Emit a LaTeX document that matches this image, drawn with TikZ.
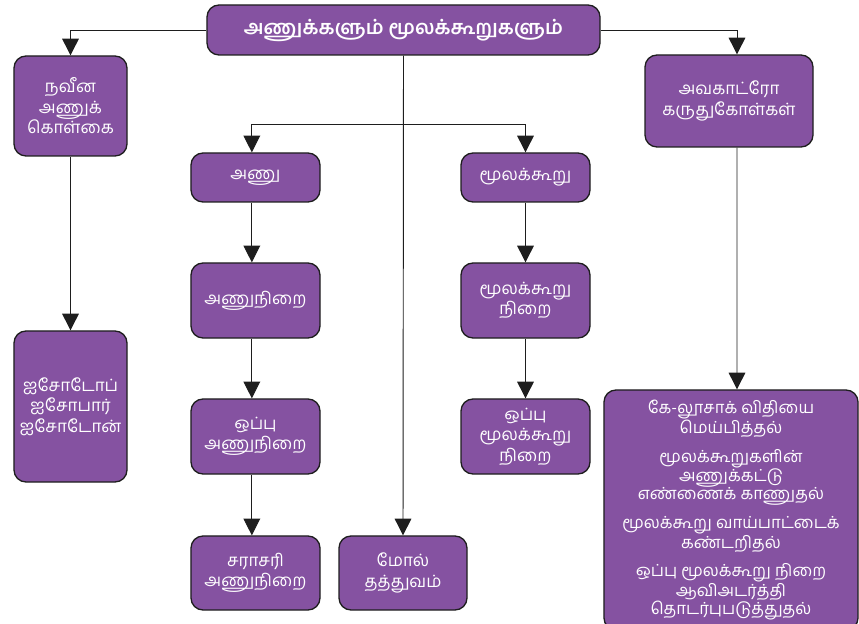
\documentclass[tikz,border=0pt]{standalone}
\usepackage{fontspec}
\newfontfamily\tamilfont[Script=Tamil]{Hind Madurai}
\usetikzlibrary{arrows.meta,positioning}
\usepackage{xcolor}
\definecolor{lineblack}{RGB}{30,30,30}
\definecolor{boxpurple}{RGB}{133,82,161}

\tikzset{
  topicbox/.style={draw=lineblack, fill=boxpurple, line width=1.1pt,
    rounded corners=3.6mm, text=white, align=center, inner sep=2pt,
    font=\tamilfont\fontsize{14.5}{17.5}\selectfont},
  flow/.style={-{Triangle[length=5mm,width=5mm]}, line width=0.8pt, draw=lineblack},
}

\begin{document}
\begin{tikzpicture}[x=0.03cm,y=-0.03cm]
\useasboundingbox (0,0) rectangle (859,624);
% title
\node[topicbox, minimum width=11.79cm, minimum height=1.5cm,
  font=\tamilfont\bfseries\fontsize{16.7}{20}\selectfont] (title) at (403.5,30) {அணுக்களும் மூலக்கூறுகளும்};
% left column
\node[topicbox, minimum width=3.39cm, minimum height=3.0cm] (theory) at (70.5,106) {நவீன\\அணுக்\\கொள்கை};
\node[topicbox, minimum width=3.39cm, minimum height=4.53cm] (isotope) at (70.5,406.5) {ஐசோடோப்\\ஐசோபார்\\ஐசோடோன்};
% atom column
\node[topicbox, minimum width=3.87cm, minimum height=1.47cm] (atom) at (255.5,177.5) {அணு};
\node[topicbox, minimum width=3.87cm, minimum height=2.25cm] (amass) at (255.5,300.5) {அணுநிறை};
\node[topicbox, minimum width=3.87cm, minimum height=2.25cm] (relamass) at (255.5,436.5) {ஒப்பு\\அணுநிறை};
\node[topicbox, minimum width=3.87cm, minimum height=2.22cm] (avgmass) at (255.5,573) {சராசரி\\அணுநிறை};
\node[topicbox, minimum width=3.84cm, minimum height=2.22cm] (mole) at (403,573) {மோல்\\தத்துவம்};
% molecule column
\node[topicbox, minimum width=3.87cm, minimum height=1.47cm] (molecule) at (525.5,177.5) {மூலக்கூறு};
\node[topicbox, minimum width=3.87cm, minimum height=2.25cm] (mmass) at (525.5,300.5) {மூலக்கூறு\\நிறை};
\node[topicbox, minimum width=3.87cm, minimum height=2.25cm] (relmmass) at (525.5,436.5) {ஒப்பு\\மூலக்கூறு\\நிறை};
% right column
\node[topicbox, minimum width=5.04cm, minimum height=2.76cm] (avogadro) at (729,101) {அவகாட்ரோ\\கருதுகோள்கள்};
\node[topicbox, minimum width=7.62cm, minimum height=7.2cm,
  font=\tamilfont\fontsize{14.2}{15.3}\selectfont] (uses) at (731,510)
  {கே-லூசாக் விதியை\\மெய்பித்தல்\\[9pt]
   மூலக்கூறுகளின்\\அணுக்கட்டு\\எண்ணைக் காணுதல்\\[9pt]
   மூலக்கூறு வாய்பாட்டைக்\\கண்டறிதல்\\[9pt]
   ஒப்பு மூலக்கூறு நிறை\\ஆவிஅடர்த்தி\\தொடர்புபடுத்துதல்};
% connectors
\coordinate (split) at (403,124);
\draw[flow] (title.west) -| (theory.north);
\draw[flow] (title.east) -| ([xshift=0.24cm]avogadro.north);
\draw[flow] (title.south) -- (mole.north);
\draw[flow] (split) -| ([xshift=-0.11cm]atom.north);
\draw[flow] (split) -| (molecule.north);
\draw[flow] (theory) -- (isotope);
\draw[flow] ([xshift=-0.11cm]atom.south) -- ([xshift=-0.11cm]amass.north);
\draw[flow] ([xshift=-0.11cm]amass.south) -- ([xshift=-0.11cm]relamass.north);
\draw[flow] ([xshift=-0.11cm]relamass.south) -- ([xshift=-0.11cm]avgmass.north);
\draw[flow] (molecule) -- (mmass);
\draw[flow] (mmass) -- (relmmass);
\draw[flow] ([xshift=0.24cm]avogadro.south) -- ([xshift=0.18cm]uses.north);
\end{tikzpicture}
\end{document}
